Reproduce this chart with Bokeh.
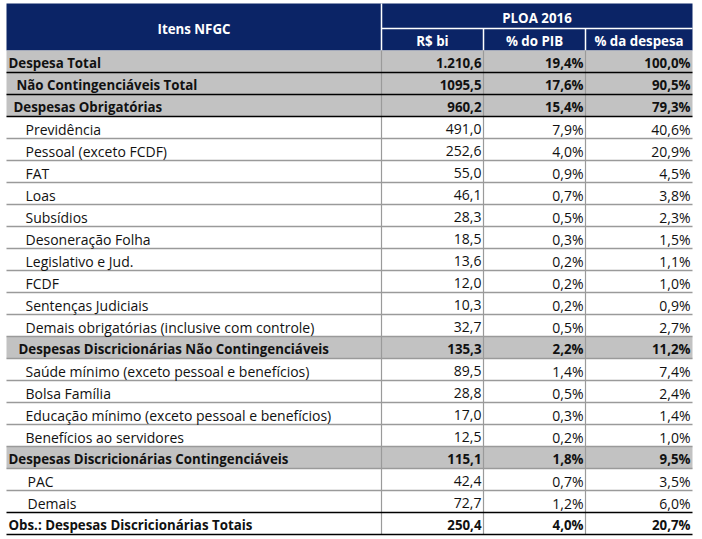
from bokeh.plotting import figure
from bokeh.models import Range1d
from bokeh.core.properties import value
from bokeh.embed import file_html
from bokeh.resources import INLINE

# ---------------- data ----------------
header_label = "Itens NFGC"
group_title = "PLOA 2016"
col_titles = ["R$ bi", "% do PIB", "% da despesa"]

items = [
    "Despesa Total",
    "Não Contingenciáveis Total",
    "Despesas Obrigatórias",
    "Previdência",
    "Pessoal (exceto FCDF)",
    "FAT",
    "Loas",
    "Subsídios",
    "Desoneração Folha",
    "Legislativo e Jud.",
    "FCDF",
    "Sentenças Judiciais",
    "Demais obrigatórias (inclusive com controle)",
    "Despesas Discricionárias Não Contingenciáveis",
    "Saúde mínimo (exceto pessoal e benefícios)",
    "Bolsa Família",
    "Educação mínimo (exceto pessoal e benefícios)",
    "Benefícios ao servidores",
    "Despesas Discricionárias Contingenciáveis",
    "PAC",
    "Demais",
    "Obs.: Despesas Discricionárias Totais",
]
# row kind: structure of the table
kinds = ["total", "sub", "group", "item", "item", "item", "item", "item", "item",
         "item", "item", "item", "item", "group2", "item", "item", "item", "item",
         "total", "item2", "item2", "obs"]

rs_bi = ["1.210,6", "1095,5", "960,2", "491,0", "252,6", "55,0", "46,1", "28,3",
         "18,5", "13,6", "12,0", "10,3", "32,7", "135,3", "89,5", "28,8", "17,0",
         "12,5", "115,1", "42,4", "72,7", "250,4"]
pct_pib = ["19,4%", "17,6%", "15,4%", "7,9%", "4,0%", "0,9%", "0,7%", "0,5%",
           "0,3%", "0,2%", "0,2%", "0,2%", "0,5%", "2,2%", "1,4%", "0,5%", "0,3%",
           "0,2%", "1,8%", "0,7%", "1,2%", "4,0%"]
pct_desp = ["100,0%", "90,5%", "79,3%", "40,6%", "20,9%", "4,5%", "3,8%", "2,3%",
            "1,5%", "1,1%", "1,0%", "0,9%", "2,7%", "11,2%", "7,4%", "2,4%", "1,4%",
            "1,0%", "9,5%", "3,5%", "6,0%", "20,7%"]

# ---------------- layout / style ----------------
FONT = "Open Sans"
FS_BOLD = "13.3px"
FS_REG = "14px"
NAVY = "#0b2466"
GRAY_FILL = "#c2c2c2"
LINE_GRAY = "#9a9a9a"
TXT = "#111111"

W, H = 702, 539
X0, X1 = 6, 692
COL_EDGES = [6, 381, 483, 585, 692]
HEAD_TOP, HEAD_MID, HEAD_BOT = 3, 28, 50
ROW_H = 22
n = len(items)
TABLE_BOT = HEAD_BOT + ROW_H * n

indent = {"total": 8, "sub": 16, "group": 13, "group2": 18, "item": 25,
          "item2": 27, "obs": 8}
bold_kinds = {"total", "sub", "group", "group2", "obs"}
fill_kinds = {"total", "sub", "group", "group2"}

p = figure(width=W, height=H, output_backend="svg", toolbar_location=None,
           x_range=Range1d(0, W), y_range=Range1d(H, 0),
           min_border=0, background_fill_color="white", border_fill_color="white")
p.axis.visible = False
p.grid.visible = False
p.outline_line_color = None

# header background
p.quad(left=[X0], right=[X1], top=[HEAD_TOP], bottom=[HEAD_BOT],
       fill_color=NAVY, line_color=None)
# header white separators
p.segment(x0=[COL_EDGES[1]], x1=[COL_EDGES[1]], y0=[HEAD_TOP], y1=[HEAD_BOT],
          line_color="white", line_width=1.5)
p.segment(x0=[COL_EDGES[1]], x1=[X1], y0=[HEAD_MID], y1=[HEAD_MID],
          line_color="white", line_width=1.5)
p.segment(x0=COL_EDGES[2:4], x1=COL_EDGES[2:4], y0=[HEAD_MID] * 2, y1=[HEAD_BOT] * 2,
          line_color="white", line_width=1.5)

# header texts
p.text(x=[(COL_EDGES[0] + COL_EDGES[1]) / 2], y=[(HEAD_TOP + HEAD_BOT) / 2 + 2],
       text=[header_label], text_color="white", text_font=value(FONT),
       text_font_style="bold", text_font_size=FS_BOLD, text_align="center",
       text_baseline="middle")
p.text(x=[(COL_EDGES[1] + COL_EDGES[4]) / 2], y=[(HEAD_TOP + HEAD_MID) / 2 + 2],
       text=[group_title], text_color="white", text_font=value(FONT),
       text_font_style="bold", text_font_size=FS_BOLD, text_align="center",
       text_baseline="middle")
p.text(x=[(COL_EDGES[i] + COL_EDGES[i + 1]) / 2 for i in range(1, 4)],
       y=[(HEAD_MID + HEAD_BOT) / 2 + 1.5] * 3,
       text=col_titles, text_color="white", text_font=value(FONT),
       text_font_style="bold", text_font_size=FS_BOLD, text_align="center",
       text_baseline="middle")

row_tops = [HEAD_BOT + ROW_H * i for i in range(n)]

# gray filled rows
gi = [i for i in range(n) if kinds[i] in fill_kinds]
p.quad(left=[X0] * len(gi), right=[X1] * len(gi),
       top=[row_tops[i] for i in gi], bottom=[row_tops[i] + ROW_H for i in gi],
       fill_color=GRAY_FILL, line_color=None)

# vertical column separators in body
p.segment(x0=COL_EDGES[1:4], x1=COL_EDGES[1:4], y0=[HEAD_BOT] * 3, y1=[TABLE_BOT] * 3,
          line_color=LINE_GRAY, line_width=1.2)

# horizontal row lines
first_item = kinds.index("item")
line_cols = []
for i in range(n):
    if i < first_item or i >= n - 2:
        line_cols.append("#000000")
    else:
        line_cols.append(LINE_GRAY)
p.segment(x0=[X0] * n, x1=[X1] * n, y0=[t + ROW_H for t in row_tops],
          y1=[t + ROW_H for t in row_tops], line_color=line_cols, line_width=1.3)

# body texts
mid_off = ROW_H / 2 + 1.5
for bold in (True, False):
    idx = [i for i in range(n) if (kinds[i] in bold_kinds) == bold]
    style = "bold" if bold else "normal"
    fs = FS_BOLD if bold else FS_REG
    p.text(x=[indent[kinds[i]] for i in idx],
           y=[row_tops[i] + mid_off for i in idx],
           text=[items[i] for i in idx], text_color=TXT, text_font=value(FONT),
           text_font_style=style, text_font_size=fs, text_align="left",
           text_baseline="middle")
    for c, col in enumerate((rs_bi, pct_pib, pct_desp)):
        p.text(x=[COL_EDGES[c + 2] - 2] * len(idx),
               y=[row_tops[i] + mid_off for i in idx],
               text=[col[i] for i in idx], text_color=TXT, text_font=value(FONT),
               text_font_style=style, text_font_size=fs, text_align="right",
               text_baseline="middle")

open("out.html", "w").write(file_html(p, INLINE))
